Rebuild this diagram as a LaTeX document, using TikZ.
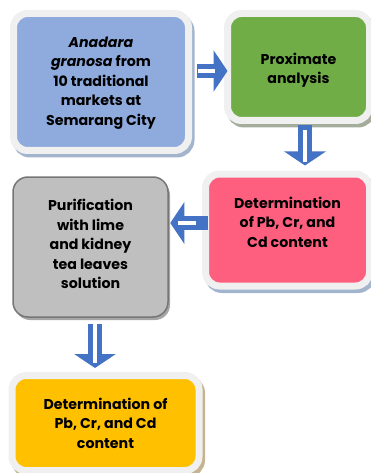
\documentclass[tikz,border=0pt]{standalone}
\usepackage{fontspec}
\setmainfont{Poppins}
\usetikzlibrary{arrows.meta,shadows}

\definecolor{framegray}{HTML}{F0F0F0}
\definecolor{boxblue}{HTML}{8FAADC}
\definecolor{boxgreen}{HTML}{70AD47}
\definecolor{boxpink}{HTML}{FF5F7E}
\definecolor{boxgray}{HTML}{BFBFBF}
\definecolor{boxyellow}{HTML}{FFC000}
\definecolor{grayborder}{HTML}{767676}
\definecolor{blueshade}{HTML}{A3B5CC}
\definecolor{greenshade}{HTML}{A4AC9B}
\definecolor{grayshade}{HTML}{A6A6A6}
\definecolor{yellowshade}{HTML}{C4B48F}
\definecolor{arrowblue}{HTML}{4472C4}

\tikzset{
  boxshadow/.style={drop shadow={shadow xshift=2.5pt,shadow yshift=-3.5pt,
      fill=#1,draw=#1,line width=7pt,opacity=1}},
  framed/.style={rounded corners=14pt, draw=framegray, line width=7pt, inner sep=0pt},
  boxtext/.style={align=center, inner sep=0pt},
  flowarrow/.style={draw=arrowblue, line width=14pt,
      -{Triangle[length=14pt,width=41pt]},
      postaction={draw=white, line width=3.5pt, -, shorten <=6pt, shorten >=9pt}},
}

\begin{document}
\begin{tikzpicture}[x=1pt, y=-1pt, font=\bfseries\fontsize{14.2}{19.6}\selectfont]
\useasboundingbox (0,0) rectangle (371,473);

% boxes
\node[framed, boxshadow=blueshade, fill=boxblue, minimum width=175pt, minimum height=137pt] (source) at (101,82) {};
\node[framed, boxshadow=greenshade, fill=boxgreen, minimum width=142pt, minimum height=107pt] (proximate) at (298.5,67) {};
\node[framed, boxshadow=blueshade, fill=boxpink, minimum width=164pt, minimum height=112pt] (metals) at (287.5,230) {};
\node[rounded corners=15pt, draw=grayborder, line width=1.5pt, fill=boxgray, inner sep=0pt,
  drop shadow={shadow xshift=2pt,shadow yshift=-3pt,fill=grayshade,opacity=1},
  minimum width=155pt, minimum height=140pt] (purify) at (90.5,247) {};
\node[framed, boxshadow=yellowshade, fill=boxyellow, minimum width=187pt, minimum height=95pt] (after) at (105.5,423) {};

% texts
\node[boxtext] (sourcetext) at ([yshift=-1pt]source.center) {\textit{Anadara}\\\textit{granosa} from\\10 traditional\\markets at\\Semarang City};
\node[boxtext] (proximatetext) at ([yshift=-3pt]proximate.center) {Proximate\\analysis};
\node[boxtext] (metalstext) at ([yshift=8pt]metals.center) {Determination\\of Pb, Cr, and\\Cd content};
\node[boxtext] (purifytext) at ([yshift=3pt]purify.center) {Purification\\with lime\\and kidney\\tea leaves\\solution};
\node[boxtext] (aftertext) at (after.center) {Determination of\\Pb, Cr, and Cd\\content};

% arrows
\draw[flowarrow, shorten <=5pt, shorten >=-3.5pt] ([yshift=-4pt]source.east |- proximate.west) -- ([yshift=-4pt]proximate.west);
\draw[flowarrow, shorten <=1pt, shorten >=5pt] ([xshift=6.5pt]proximate.south) -- ([xshift=6.5pt]proximate.south |- metals.north);
\draw[flowarrow, shorten <=-6pt, shorten >=1.5pt] ([yshift=7pt]metals.west) -- ([yshift=7pt]metals.west -| purify.east);
\draw[flowarrow, shorten <=6pt, shorten >=4pt] ([xshift=4.5pt]purify.south) -- ([xshift=4.5pt]purify.south |- after.north);

\end{tikzpicture}
\end{document}
